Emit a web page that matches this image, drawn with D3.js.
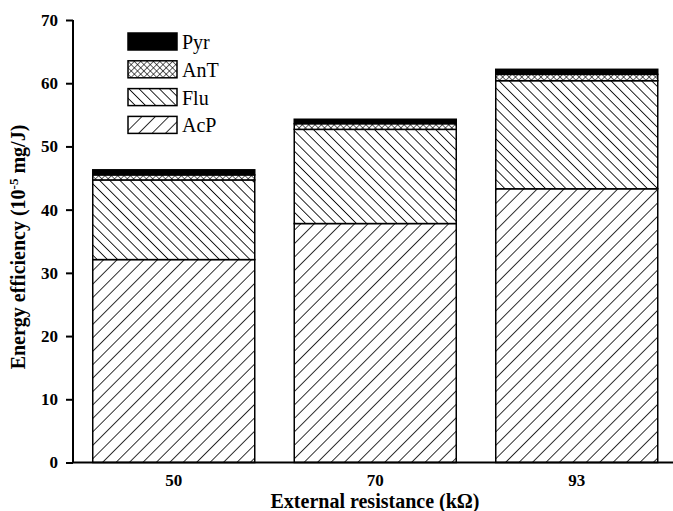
<!DOCTYPE html>
<html>
<head>
<meta charset="utf-8">
<script src="https://cdn.jsdelivr.net/npm/d3@7"></script>
<style>
  body { margin: 0; background: #fff; }
  text { font-family: "Liberation Serif", "Times New Roman", serif; }
</style>
</head>
<body>
<svg id="chart" width="673" height="511"></svg>
<script>
// data
var categories = ["50", "70", "93"];
var series = ["AcP", "Flu", "AnT", "Pyr"];
var acp = [32.1, 37.8, 43.3];
var flu = [12.6, 14.9, 17.1];
var ant = [0.8, 0.9, 1.0];
var pyr = [0.8, 0.7, 0.8];
var yTicks = [0, 10, 20, 30, 40, 50, 60, 70];

var rows = categories.map(function(c, i) {
  return {cat: c, AcP: acp[i], Flu: flu[i], AnT: ant[i], Pyr: pyr[i]};
});

var svg = d3.select("#chart");
var plotLeft = 73, plotTop = 20, plotBottom = 462.5;

var x = d3.scaleBand().domain(categories).range([plotLeft, 677.5])
  .paddingInner(0.196).paddingOuter(0.098);
var y = d3.scaleLinear().domain([0, 70]).range([plotBottom, plotTop]);

// hatch patterns
var defs = svg.append("defs");
function hatch(id, size, angle, sw) {
  var p = defs.append("pattern").attr("id", id)
    .attr("patternUnits", "userSpaceOnUse")
    .attr("width", size).attr("height", size)
    .attr("patternTransform", "rotate(" + angle + ")");
  p.append("rect").attr("width", size).attr("height", size).attr("fill", "#fff");
  p.append("line").attr("x1", 0).attr("y1", 0).attr("x2", 0).attr("y2", size)
    .attr("stroke", "#000").attr("stroke-width", sw);
  return p;
}
hatch("hAcP", 9.5, 45, 1.6);
hatch("hFlu", 7.2, -45, 1.7);
var cross = hatch("hAnT", 4.5, 45, 1.2);
cross.append("line").attr("x1", 0).attr("y1", 0).attr("x2", 4.5).attr("y2", 0)
  .attr("stroke", "#000").attr("stroke-width", 1.2);

var fills = {AcP: "url(#hAcP)", Flu: "url(#hFlu)", AnT: "url(#hAnT)", Pyr: "#000"};

var stacked = d3.stack().keys(series)(rows);

svg.append("g").selectAll("g")
  .data(stacked)
  .join("g")
  .attr("fill", function(d) { return fills[d.key]; })
  .selectAll("rect")
  .data(function(d) { return d; })
  .join("rect")
  .attr("x", function(d) { return x(d.data.cat); })
  .attr("width", x.bandwidth())
  .attr("y", function(d) { return y(d[1]); })
  .attr("height", function(d) { return y(d[0]) - y(d[1]); })
  .attr("stroke", "#000")
  .attr("stroke-width", 1.5);

// axes
var yAxis = svg.append("g")
  .attr("transform", "translate(" + plotLeft + ",0)")
  .call(d3.axisLeft(y).tickValues(yTicks).tickSize(7).tickPadding(8));
yAxis.select(".domain").attr("d", "M0," + plotTop + "V" + plotBottom).attr("stroke-width", 2);
yAxis.selectAll(".tick line").attr("stroke-width", 2);
yAxis.selectAll("text")
  .style("font-family", "Liberation Serif").style("font-weight", "bold").style("font-size", "17px");

var xAxis = svg.append("g")
  .attr("transform", "translate(0," + plotBottom + ")")
  .call(d3.axisBottom(x).tickSize(0).tickPadding(11));
xAxis.select(".domain").attr("d", "M" + plotLeft + ",0H673").attr("stroke-width", 2);
xAxis.selectAll("text")
  .style("font-family", "Liberation Serif").style("font-weight", "bold").style("font-size", "17px");

// axis titles
svg.append("text")
  .attr("x", 375).attr("y", 508)
  .attr("text-anchor", "middle")
  .style("font-weight", "bold").style("font-size", "20px")
  .text("External resistance (kΩ)");

var yl = svg.append("text")
  .attr("transform", "translate(25,247) rotate(-90)")
  .attr("text-anchor", "middle")
  .style("font-weight", "bold").style("font-size", "20px");
yl.append("tspan").text("Energy efficiency (10");
yl.append("tspan").attr("dy", -7).style("font-size", "13px").text("-5");
yl.append("tspan").attr("dy", 7).text(" mg/J)");

// legend
var legendKeys = series.slice().reverse();
var lg = svg.append("g").attr("transform", "translate(128,33)");
var item = lg.selectAll("g").data(legendKeys).join("g")
  .attr("transform", function(d, i) { return "translate(0," + (i * 27.8) + ")"; });
item.append("rect")
  .attr("width", 49).attr("height", 17)
  .attr("fill", function(d) { return fills[d]; })
  .attr("stroke", "#000").attr("stroke-width", 1.5);
item.append("text")
  .attr("x", 54).attr("y", 16)
  .style("font-size", "20px")
  .text(function(d) { return d; });
</script>
</body>
</html>
